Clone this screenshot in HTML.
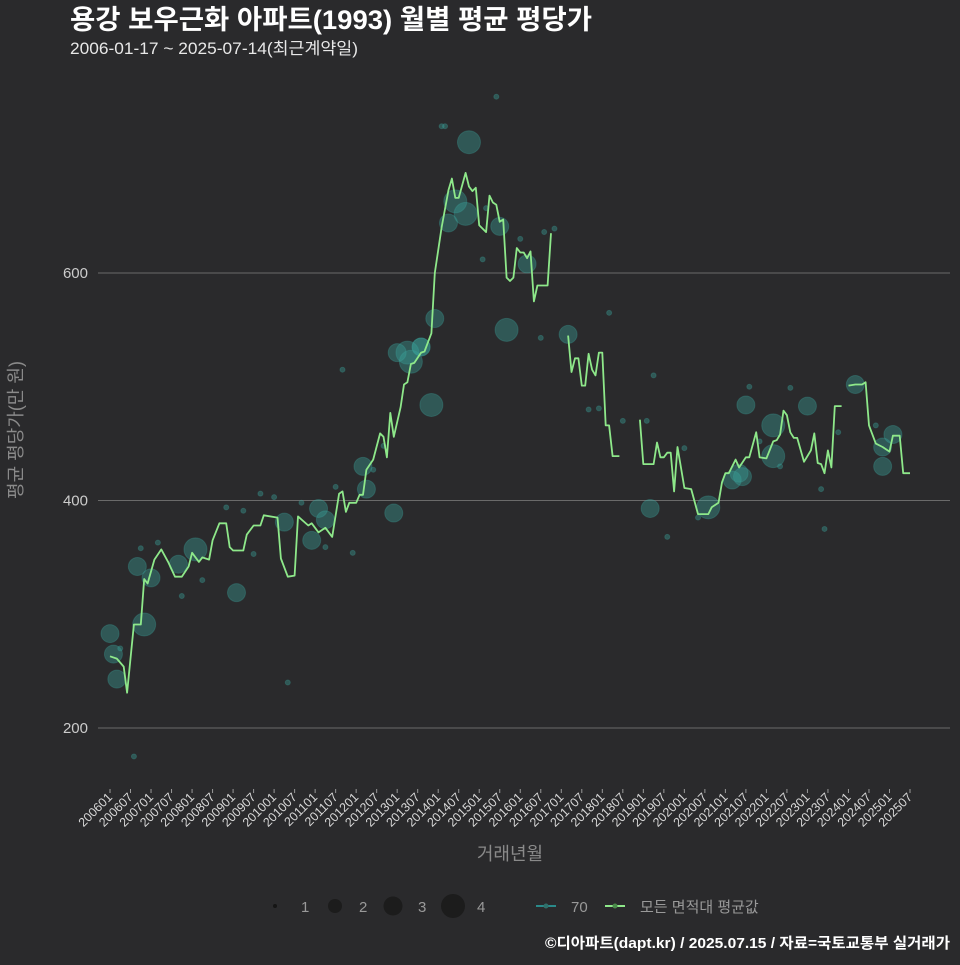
<!DOCTYPE html>
<html><head><meta charset="utf-8">
<style>
html,body{margin:0;padding:0;background:#2a2a2c;}
svg text{font-family:"Liberation Sans","Noto Sans CJK KR",sans-serif;}
</style></head>
<body>
<svg id="chart" width="960" height="960" viewBox="0 0 960 960" xmlns="http://www.w3.org/2000/svg">
<rect x="0" y="0" width="960" height="960" fill="#2a2a2c"/>
<text x="70" y="29" font-size="27" font-weight="bold" fill="#ffffff" textLength="522" lengthAdjust="spacingAndGlyphs">용강 보우근화 아파트(1993) 월별 평균 평당가</text>
<text x="70" y="54" font-size="16.5" fill="#e8e8e8" textLength="288" lengthAdjust="spacingAndGlyphs">2006-01-17 ~ 2025-07-14(최근계약일)</text>
<text transform="translate(22,430) rotate(-90)" text-anchor="middle" font-size="18" fill="#8a8a8a">평균 평당가(만 원)</text>
<text x="510" y="860" text-anchor="middle" font-size="18" fill="#8a8a8a">거래년월</text>
<g id="grid"></g>
<g id="yticks"></g>
<g id="xticks"></g>
<g id="bubbles"></g>
<g id="lines"></g>
<g>
  <circle cx="275" cy="906" r="2" fill="#151515"/>
  <text x="301" y="912" font-size="15" fill="#999">1</text>
  <circle cx="335" cy="906" r="7" fill="#1c1c1c"/>
  <text x="359" y="912" font-size="15" fill="#999">2</text>
  <circle cx="393" cy="906" r="9.5" fill="#1c1c1c"/>
  <text x="418" y="912" font-size="15" fill="#999">3</text>
  <circle cx="453" cy="906" r="12" fill="#1c1c1c"/>
  <text x="477" y="912" font-size="15" fill="#999">4</text>
  <line x1="536" y1="906" x2="556" y2="906" stroke="#2a8a8a" stroke-width="2"/>
  <circle cx="546" cy="906" r="2.5" fill="#2f6f6a"/>
  <text x="571" y="912" font-size="15" fill="#999">70</text>
  <line x1="605" y1="906" x2="625" y2="906" stroke="#8ee88a" stroke-width="2"/>
  <circle cx="615" cy="906" r="2.5" fill="#4a8a4a"/>
  <text x="640" y="912" font-size="15" fill="#999">모든 면적대 평균값</text>
</g>
<text x="950" y="948" text-anchor="end" font-size="15" font-weight="bold" fill="#ffffff" textLength="405" lengthAdjust="spacingAndGlyphs">©디아파트(dapt.kr) / 2025.07.15 / 자료=국토교통부 실거래가</text>
</svg>
<script>
// data
const yTicks = [200, 400, 600];
const xTickLabels = [];
for (let yr = 2006; yr <= 2025; yr++) { xTickLabels.push(yr + "01"); xTickLabels.push(yr + "07"); }
// average line: month index from 2006-01, value (null = gap)
const lineMonths = [0,2,4,5,7,9,10,11,13,15,17,19,21,23,24,26,27,29,30,32,34,35,36,39,40,42,44,45,49,50,52,54,55,58,59,61,63,65,67,68,69,70,72,73,74,75,77,79,80,81,82,83,85,86,87,88,89,91,92,93,94,95,97,99,100,101,102,104,105,106,107,108,110,111,112,113,114,115,116,117,118,119,120,121,122,123,124,125,128,129,
 130,
 134,135,136,137,138,139,140,141,142,143,144,145,146,147,149,
 150,
 155,156,159,160,161,162,163,164,165,166,168,170,172,175,176,178,179,180,181,183,184,186,187,189,190,192,194,195,196,197,198,199,200,201,203,205,206,207,208,209,210,211,212,214,
 215,
 216,218,220,221,222,224,226,228,229,231,232,234];
const lineValues = [263,261,254,231,291,291,331,327,348,357,346,333,333,342,354,346,350,348,365,380,380,359,356,356,370,378,378,387,385,349,333,334,386,378,380,372,376,368,406,408,390,398,398,405,405,427,436,459,456,438,477,456,482,502,504,520,521,530,531,539,547,600,640,673,683,666,666,688,676,672,675,642,636,668,662,660,645,647,596,593,596,622,618,618,613,619,575,589,589,635,
 null,
 545,513,525,525,501,501,529,515,510,530,530,466,466,439,439,
 null,
 471,432,432,451,438,438,442,442,408,447,411,410,388,388,394,398,416,424,424,436,429,438,438,460,438,437,452,453,458,479,475,460,455,455,434,444,459,433,432,424,444,429,483,483,
 null,
 501,502,502,504,466,450,447,443,457,457,424,424];
// bubbles: month index, value, size class (1-4)
const bubbleMonths = [0,1,2,8,10,12,9,14,20,25,21,27,34,37,39,42,44,48,51,52,7,59,61,63,63,71,75,74,77,83,84,87,88,91,95,91,94,99,101,104,97,98,113,105,116,114,122,134,158,175,185,186,194,194,204,218,226,229,226,182,184,80,66,68,109,120,126,127,110,140,143,146,163,168,172,187,196,209,224,3,56,130,150,157,159,190,208,213,199];
const bubbleValues = [283,265,243,342,291,332,358,363,344,357,316,330,394,319,391,353,406,403,381,240,175,365,393,383,359,354,410,430,427,389,530,530,522,535,560,535,484,644,663,652,729,729,755,715,550,641,608,546,393,394,421,484,466,439,483,502,430,458,447,418,424,448,412,515,612,630,543,636,657,480,481,565,368,446,385,500,430,375,466,270,398,639,470,470,510,452,410,460,499];
const bubbleSizes = [3,3,3,3,4,3,1,1,3,4,1,1,1,3,1,1,1,1,3,1,1,3,3,3,1,1,3,3,1,3,3,4,4,3,3,3,4,3,4,4,1,1,1,4,4,3,3,3,3,4,3,3,4,4,3,3,3,3,3,3,3,1,1,1,1,1,1,1,1,1,1,1,1,1,1,1,1,1,1,1,1,1,1,1,1,1,1,1,1];

const X0 = 110, XSTEP = 3.4188;
function xScale(m) { return X0 + m * XSTEP; }
function yScale(v) { return 728 - (v - 200) * 1.1375; }
const rad = {1: 2.5, 2: 6.5, 3: 9, 4: 11.5};
const NS = "http://www.w3.org/2000/svg";
function mk(tag, attrs, parent) {
  const el = document.createElementNS(NS, tag);
  for (const k in attrs) el.setAttribute(k, attrs[k]);
  parent.appendChild(el);
  return el;
}
const grid = document.getElementById('grid');
const yt = document.getElementById('yticks');
yTicks.forEach(v => {
  const ln = mk('line', {x1: 98, x2: 950, y1: yScale(v), y2: yScale(v), stroke: '#6a6a6a', 'stroke-width': 1}, grid);
  
  
  const t = mk('text', {x: 88, y: yScale(v) + 5, 'text-anchor': 'end', 'font-size': 15, fill: '#cccccc'}, yt);
  t.textContent = v;
  
  
});
const xt = document.getElementById('xticks');
xTickLabels.forEach((lab, i) => {
  const x = xScale(i * 6);
  const tk = mk('line', {x1: x, x2: x, y1: 789, y2: 793, stroke: '#999', 'stroke-width': 1}, xt);
  
  
  const t = mk('text', {transform: 'translate(' + (x + 3) + ',798) rotate(-45)', 'text-anchor': 'end', 'font-size': 12.5, fill: '#d8d8d8'}, xt);
  t.textContent = lab;
  
  
});
const bg = document.getElementById('bubbles');
bubbleMonths.forEach((m, i) => {
  const c = mk('circle', {cx: xScale(m), cy: yScale(bubbleValues[i]), r: rad[bubbleSizes[i]], fill: '#3aa39a', 'fill-opacity': 0.38, stroke: '#3aa39a', 'stroke-opacity': 0.3}, bg);
  
  
});
const lg = document.getElementById('lines');
let seg = [];
function flush() {
  if (seg.length > 1) {
    const p = mk('polyline', {points: seg.join(' '), fill: 'none', stroke: '#8ee88a', 'stroke-width': 1.8, 'stroke-linejoin': 'round'}, lg);
    
    
  }
  seg = [];
}
lineMonths.forEach((m, i) => {
  const v = lineValues[i];
  if (v === null) { flush(); return; }
  seg.push(xScale(m).toFixed(1) + ',' + yScale(v).toFixed(1));
});
flush();
</script>
</body></html>
